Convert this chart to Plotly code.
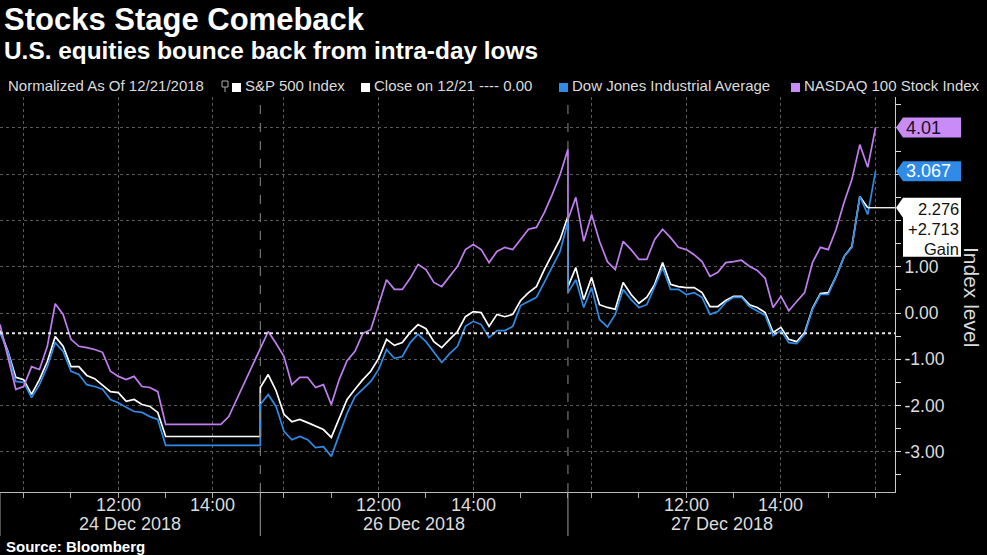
import pandas as pd
import plotly.graph_objects as go

TITLE = "Stocks Stage Comeback"
SUBTITLE = "U.S. equities bounce back from intra-day lows"
SOURCE = "Source: Bloomberg"
LEGEND_NOTE = "Normalized As Of 12/21/2018"
NAMES = ["S&P 500 Index", "Dow Jones Industrial Average", "NASDAQ 100 Stock Index"]
CLOSE_NAME = "Close on 12/21 ---- 0.00"
Y_TITLE = "Index level"

# sessions shown on the x axis
session_dates = ["2018-12-24", "2018-12-26", "2018-12-27"]
session_labels = ["24 Dec 2018", "26 Dec 2018", "27 Dec 2018"]
session_open = ["09:30", "09:30", "09:30"]
session_close = ["15:00", "16:00", "16:00"]
time_tick_labels = {12: "12:00", 14: "14:00"}

# values sampled every 10 minutes of each session
spx_24 = [-0.38, -0.83, -1.39, -1.44, -1.76, -1.44, -1.05, -0.51, -0.72, -1.16,
          -1.16, -1.35, -1.42, -1.55, -1.70, -1.72, -1.91, -1.87, -1.98, -2.02,
          -2.15, -2.67, -2.67, -2.67, -2.67, -2.67, -2.67, -2.67, -2.67, -2.67,
          -2.67, -2.67, -2.67, -2.67]
dji_24 = [-0.42, -0.85, -1.48, -1.50, -1.83, -1.55, -1.16, -0.64, -0.83, -1.26,
          -1.33, -1.55, -1.59, -1.65, -1.87, -1.94, -2.04, -2.13, -2.15, -2.24,
          -2.30, -2.86, -2.86, -2.86, -2.86, -2.86, -2.86, -2.86, -2.86, -2.86,
          -2.86, -2.86, -2.86, -2.86]
ndx_24 = [-0.25, -0.94, -1.65, -1.59, -1.16, -1.22, -0.72, 0.20, -0.03, -0.57,
          -0.72, -0.75, -0.79, -0.85, -1.26, -1.37, -1.44, -1.37, -1.59, -1.61,
          -1.70, -2.41, -2.41, -2.41, -2.41, -2.41, -2.41, -2.41, -2.41, -2.24,
          -1.87, -1.50, -1.11, -0.75]

spx_26 = [-1.61, -1.33, -1.68, -2.19, -2.35, -2.30, -2.37, -2.45, -2.52, -2.69,
          -2.26, -1.87, -1.65, -1.44, -1.26, -0.98, -0.57, -0.70, -0.64, -0.42,
          -0.25, -0.34, -0.62, -0.75, -0.57, -0.40, -0.08, 0.03, 0.01, -0.29,
          -0.03, -0.08, -0.03, 0.27, 0.44, 0.57, 0.94, 1.26, 1.59, 2.09]
dji_26 = [-1.98, -1.76, -2.02, -2.56, -2.74, -2.67, -2.74, -2.91, -2.89, -3.10,
          -2.63, -2.17, -1.81, -1.65, -1.48, -1.22, -0.79, -0.98, -0.94, -0.64,
          -0.46, -0.62, -0.85, -1.07, -0.88, -0.72, -0.29, -0.18, -0.25, -0.53,
          -0.38, -0.38, -0.29, 0.16, 0.25, 0.34, 0.66, 0.98, 1.33, 1.98]
ndx_26 = [-0.75, -0.40, -0.66, -0.94, -1.55, -1.39, -1.39, -1.61, -1.55, -1.98,
          -1.44, -1.03, -0.83, -0.44, -0.36, 0.18, 0.72, 0.51, 0.51, 0.75,
          1.05, 0.94, 0.66, 0.57, 0.79, 1.01, 1.37, 1.48, 1.37, 1.09,
          1.33, 1.42, 1.37, 1.59, 1.81, 1.85, 2.17, 2.56, 2.99, 3.54]

spx_27 = [0.57, 0.98, 0.29, 0.77, 0.18, 0.12, 0.08, 0.66, 0.40, 0.21,
          0.34, 0.62, 1.09, 0.62, 0.57, 0.55, 0.55, 0.44, 0.14, 0.14,
          0.27, 0.36, 0.36, 0.18, 0.12, 0.01, -0.42, -0.31, -0.57, -0.62,
          -0.42, 0.10, 0.42, 0.44, 0.79, 1.22, 1.44, 2.52, 2.276, None]
dji_27 = [0.44, 0.72, 0.12, 0.55, -0.14, -0.30, -0.03, 0.51, 0.29, 0.12,
          0.18, 0.57, 0.98, 0.51, 0.51, 0.40, 0.44, 0.34, -0.03, 0.03,
          0.23, 0.34, 0.34, 0.14, 0.05, -0.05, -0.49, -0.38, -0.64, -0.66,
          -0.46, 0.08, 0.40, 0.40, 0.79, 1.22, 1.42, 2.52, 2.13, 3.067]
ndx_27 = [2.02, 2.50, 1.55, 2.13, 1.55, 1.11, 0.94, 1.55, 1.37, 1.16,
          1.16, 1.59, 1.81, 1.63, 1.42, 1.37, 1.26, 1.11, 0.79, 0.88,
          1.09, 1.11, 1.14, 1.01, 0.92, 0.75, 0.12, 0.36, 0.05, 0.25,
          0.44, 1.09, 1.42, 1.37, 1.81, 2.39, 2.89, 3.64, 3.15, 4.01]

spx_last = 2.276
spx_gain = 2.713
dji_last = 3.067
ndx_last = 4.01
close_level = spx_last - spx_gain

COL_SPX = "#ffffff"
COL_DJI = "#2f8be6"
COL_NDX = "#c17ef0"
TXT = "#dcdcdc"
FONT = "Liberation Sans, Arial, sans-serif"

# ---------- build a gap-free trading-time axis ----------
positions = []
offsets = []
offset = 0.0
minor_ticks, major_ticks, major_text = [], [], []
for i, d in enumerate(session_dates):
    t0 = pd.Timestamp(f"{d} {session_open[i]}")
    t1 = pd.Timestamp(f"{d} {session_close[i]}")
    ts = pd.date_range(t0, t1, freq="10min")
    positions.append([offset + (t - t0).total_seconds() / 3600 for t in ts])
    offsets.append(offset)
    h_open = t0.hour + t0.minute / 60
    for h in range(int(h_open) + 1, t1.hour + 1):
        p = offset + h - h_open
        minor_ticks.append(p)
        last = i == len(session_dates) - 1
        if h % 2 == 0 and (h < t1.hour or last):
            major_ticks.append(p)
            major_text.append(time_tick_labels.get(h, ""))
    offset += (t1 - t0).total_seconds() / 3600
session_ends = offsets[1:] + [offset]

X0, X1 = 0.0, offset + 0.41
Y0, Y1 = -3.87, 4.67
W, H = 987, 555
PL, PR, PT, PB = 0, 895, 97, 492
UPP = (Y1 - Y0) / (PB - PT)  # data units per pixel


def px_x(x):
    return (x - PL) / (PR - PL)


def px_y(y):
    return (PB - y) / (PB - PT)


def flat(*lists):
    out = []
    for l in lists:
        out.extend(l)
    return out


xs = flat(*positions)

fig = go.Figure()
for name, vals, col in [
    (NAMES[0], flat(spx_24, spx_26, spx_27), COL_SPX),
    (NAMES[1], flat(dji_24, dji_26, dji_27), COL_DJI),
    (NAMES[2], flat(ndx_24, ndx_26, ndx_27), COL_NDX),
]:
    fig.add_trace(go.Scatter(x=xs, y=vals, mode="lines", name=name,
                             line=dict(color=col, width=1.7), connectgaps=False,
                             showlegend=False))

shapes = []
# close-on-12/21 reference line
shapes.append(dict(type="line", xref="paper", yref="y", x0=0, x1=1,
                   y0=close_level, y1=close_level,
                   line=dict(color="#e6e6e6", width=2, dash="dot")))
# S&P last value extension
spx_pos = [p for p, v in zip(xs, flat(spx_24, spx_26, spx_27)) if v is not None][-1]
shapes.append(dict(type="line", xref="x", yref="y", x0=spx_pos, x1=X1,
                   y0=spx_last, y1=spx_last, line=dict(color=COL_SPX, width=1.3)))
# session boundaries
for b in offsets[1:]:
    shapes.append(dict(type="line", xref="x", yref="paper", x0=b, x1=b, y0=0, y1=1,
                       line=dict(color="#8a8a8a", width=1, dash="dash")))
for b in offsets:
    shapes.append(dict(type="line", xref="x", yref="paper", x0=b, x1=b,
                       y0=0, y1=px_y(536), line=dict(color="#9a9a9a", width=1)))


# value badges on the right axis
def badge(val, top_px, bot_px, fill):
    tip = px_x(896)
    xl = px_x(903)
    xr = px_x(961)
    yc = val
    yt = val + 10 * UPP if top_px is None else val + top_px * UPP
    yb = val - 10 * UPP if bot_px is None else val - bot_px * UPP
    if top_px is None:
        path = f"M {tip},{yc} L {xl},{yt} L {xr},{yt} L {xr},{yb} L {xl},{yb} Z"
    else:
        ya = val - 10 * UPP
        path = (f"M {tip},{yc} L {xl},{yt} L {xr},{yt} L {xr},{yb} "
                f"L {xl},{yb} L {xl},{ya} Z")
    shapes.append(dict(type="path", xref="paper", yref="y", path=path,
                       fillcolor=fill, line=dict(width=0)))


badge(ndx_last, None, None, "#c98cf6")
badge(dji_last, None, None, "#2f8be6")
badge(spx_last, 10, 49, "#ffffff")

annotations = []
annotations.append(dict(xref="paper", yref="y", x=px_x(904), y=ndx_last,
                        xanchor="left", yanchor="middle", text=f"{ndx_last:.2f}",
                        showarrow=False, font=dict(family=FONT, size=18, color="#1a1020")))
annotations.append(dict(xref="paper", yref="y", x=px_x(904), y=dji_last,
                        xanchor="left", yanchor="middle", text=f"{dji_last:.3f}",
                        showarrow=False, font=dict(family=FONT, size=18, color="#ffffff")))
for k, line in enumerate([f"{spx_last:.3f}", f"+{spx_gain:.3f}", "Gain"]):
    annotations.append(dict(xref="paper", yref="y", x=px_x(960),
                            y=spx_last - (1 + 20 * k) * UPP,
                            xanchor="right", yanchor="middle", text=line, borderpad=0,
                            showarrow=False, font=dict(family=FONT, size=16.5, color="#111111")))
# y axis title
annotations.append(dict(xref="paper", yref="paper", x=px_x(972), y=px_y(297),
                        text=Y_TITLE, textangle=90, showarrow=False,
                        xanchor="center", yanchor="middle",
                        font=dict(family=FONT, size=21, color=TXT)))
# time-of-day tick labels
for p, t in zip(major_ticks, major_text):
    if t:
        annotations.append(dict(xref="x", yref="paper", x=p, y=px_y(505), text=t,
                                showarrow=False, xanchor="center", yanchor="middle",
                                font=dict(family=FONT, size=18, color=TXT)))
# session date labels
for i, lab in enumerate(session_labels):
    annotations.append(dict(xref="x", yref="paper", x=(offsets[i] + session_ends[i]) / 2,
                            y=px_y(524), text=lab, showarrow=False,
                            xanchor="center", yanchor="middle",
                            font=dict(family=FONT, size=18, color=TXT)))
# titles and source
annotations.append(dict(xref="paper", yref="paper", x=px_x(2), y=px_y(19), text=f"<b>{TITLE}</b>",
                        showarrow=False, xanchor="left", yanchor="middle",
                        font=dict(family=FONT, size=31, color="#ffffff")))
annotations.append(dict(xref="paper", yref="paper", x=px_x(2), y=px_y(50), text=f"<b>{SUBTITLE}</b>",
                        showarrow=False, xanchor="left", yanchor="middle",
                        font=dict(family=FONT, size=24.4, color="#ffffff")))
annotations.append(dict(xref="paper", yref="paper", x=px_x(4), y=px_y(546), text=f"<b>{SOURCE}</b>",
                        showarrow=False, xanchor="left", yanchor="middle",
                        font=dict(family=FONT, size=15, color="#ffffff")))

# legend row
LEG_Y = 85
annotations.append(dict(xref="paper", yref="paper", x=px_x(6), y=px_y(LEG_Y), text=LEGEND_NOTE,
                        showarrow=False, xanchor="left", yanchor="middle",
                        font=dict(family=FONT, size=15, color=TXT)))
shapes.append(dict(type="rect", xref="paper", yref="paper", x0=px_x(222), x1=px_x(228),
                   y0=px_y(87), y1=px_y(81), line=dict(color="#aaaaaa", width=1)))
shapes.append(dict(type="line", xref="paper", yref="paper", x0=px_x(225), x1=px_x(225),
                   y0=px_y(87), y1=px_y(92), line=dict(color="#aaaaaa", width=1)))
for sq_x, col, label in [(232, COL_SPX, NAMES[0]), (361, "#ffffff", CLOSE_NAME),
                         (559, COL_DJI, NAMES[1]), (791, "#c98cf6", NAMES[2])]:
    shapes.append(dict(type="rect", xref="paper", yref="paper", x0=px_x(sq_x), x1=px_x(sq_x + 9),
                       y0=px_y(92), y1=px_y(83), fillcolor=col, line=dict(width=0)))
    annotations.append(dict(xref="paper", yref="paper", x=px_x(sq_x + 11), y=px_y(LEG_Y), text=label,
                            showarrow=False, xanchor="left", yanchor="middle",
                            font=dict(family=FONT, size=15, color=TXT)))

half_ticks = [v + 0.5 for v in range(-4, 5) if Y0 < v + 0.5 < Y1]
int_ticks = [v for v in range(-3, 5)]
int_text = [f"{v:.2f}" if v <= 1 else "" for v in int_ticks]

fig.update_layout(
    width=W, height=H,
    paper_bgcolor="#000000", plot_bgcolor="#000000",
    margin=dict(l=PL, r=W - PR, t=PT, b=H - PB),
    font=dict(family=FONT, color=TXT),
    shapes=shapes, annotations=annotations, showlegend=False,
    xaxis=dict(range=[X0, X1], tickmode="array", tickvals=major_ticks,
               ticktext=["" for _ in major_ticks],
               showgrid=True, gridcolor="#5a5a5a", griddash="dot", gridwidth=1,
               ticks="outside", ticklen=5, tickcolor="#aaaaaa",
               showline=True, linecolor="#bbbbbb", linewidth=1, zeroline=False,
               tickfont=dict(family=FONT, size=18, color=TXT),
               minor=dict(tickvals=minor_ticks, ticks="outside", ticklen=5,
                          tickcolor="#aaaaaa", showgrid=False)),
    yaxis=dict(range=[Y0, Y1], side="right", tickmode="array", tickvals=int_ticks, ticktext=int_text,
               showgrid=True, gridcolor="#5a5a5a", griddash="dot", gridwidth=1,
               ticks="outside", ticklen=5, tickcolor="#dddddd",
               showline=True, linecolor="#cccccc", linewidth=1, zeroline=False,
               tickfont=dict(family=FONT, size=17.5, color=TXT),
               minor=dict(tickvals=half_ticks, ticks="outside", ticklen=5,
                          tickcolor="#dddddd", showgrid=False)),
)

fig.write_html("out.html", config={"displayModeBar": False},
               post_script="document.body.style.margin='0';document.body.style.overflow='hidden';")
